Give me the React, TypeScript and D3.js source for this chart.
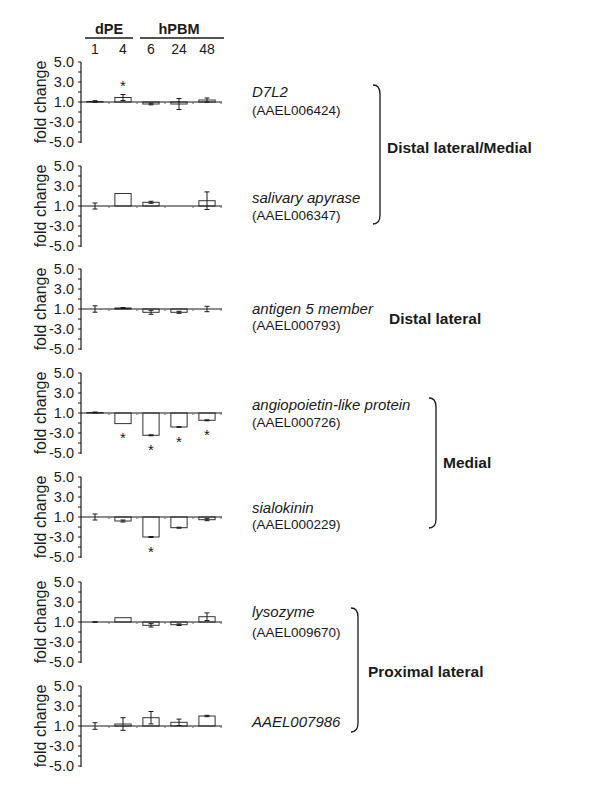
import React from "react";
import * as d3 from "d3";

// ---- data ----
const categories = ["1", "4", "6", "24", "48"];
const groupLabels = ["dPE", "hPBM"];
const groupSpans = [[0, 1], [2, 4]];
const yTickLabels = [5, 3, 1, -3, -5];
const geneNames = ["D7L2", "salivary apyrase", "antigen 5 member", "angiopoietin-like protein", "sialokinin", "lysozyme", "AAEL007986"];
const geneIds = ["(AAEL006424)", "(AAEL006347)", "(AAEL000793)", "(AAEL000726)", "(AAEL000229)", "(AAEL009670)", ""];

const values = [
  [1.05, 1.45, -1.2, -1.2, 1.2],
  [1.0, 2.25, 1.37, 1.0, 1.53],
  [1.0, 1.1, -1.33, -1.33, 1.0],
  [1.05, -2.06, -3.23, -2.4, -1.73],
  [1.0, -1.4, -3.0, -2.07, -1.27],
  [1.0, 1.43, -1.33, -1.27, 1.53],
  [1.0, 1.2, 1.83, 1.37, 2.0],
];
const errors = [
  [0.08, 0.3, 0.08, 0.55, 0.2],
  [0.3, 0, 0.1, 0, 0.88],
  [0.32, 0.05, 0.2, 0.1, 0.27],
  [0.05, 0, 0.05, 0.03, 0.05],
  [0.3, 0.1, 0.05, 0.05, 0.1],
  [0.03, 0, 0.17, 0.08, 0.38],
  [0.33, 0.63, 0.62, 0.32, 0.07],
];
const significant = [
  [false, true, false, false, false],
  [false, false, false, false, false],
  [false, false, false, false, false],
  [false, true, true, true, true],
  [false, false, true, false, false],
  [false, false, false, false, false],
  [false, false, false, false, false],
];
const regionLabels = ["Distal lateral/Medial", "Distal lateral", "Medial", "Proximal lateral"];

// ---- layout ----
const W = 600, H = 788;
const axisX = 81;
const bandW = 28;
const baselines = [102, 206, 309, 413, 517, 622, 726];
const halfH = 40;
const nameDy = [-5, -3, 5, -3, -4, -5, 1];
const idDy = [13, 14, 21, 14, 12, 15, 0];
const labelX = 252;
const brackets = [
  { tip: 373, top: 85, bottom: 224 },
  null,
  { tip: 429, top: 398, bottom: 528 },
  { tip: 351, top: 608, bottom: 732 },
];
const regionPos = [
  { x: 387, y: 153 },
  { x: 389, y: 324 },
  { x: 443, y: 468 },
  { x: 368, y: 677 },
];

const FONT = "'Liberation Sans', Arial, Helvetica, sans-serif";
const INK = "#1a1a1a";

// fold change axis: values between -1 and 1 collapse to 0
const tf = (v: number) => (v >= 1 ? v - 1 : v <= -1 ? v + 1 : 0);

const x = d3
  .scaleBand<string>()
  .domain(categories)
  .range([axisX, axisX + bandW * categories.length])
  .paddingInner(0.42)
  .paddingOuter(0.21);

function Panel({ i }: { i: number }) {
  const base = baselines[i];
  const y = d3.scaleLinear().domain([-4, 4]).range([base + halfH, base - halfH]);
  const minorTicks = d3.range(-4, 5, 1);
  const bw = x.bandwidth();
  const x0 = axisX;
  const x1 = axisX + bandW * categories.length + 1;
  return (
    <g>
      {/* y axis */}
      <line x1={axisX} x2={axisX} y1={y(4)} y2={y(-4) + 1} stroke={INK} strokeWidth={1.2} />
      {minorTicks.map((t) => (
        <line key={"mt" + t} x1={axisX - 3} x2={axisX} y1={y(t)} y2={y(t)} stroke={INK} strokeWidth={1} />
      ))}
      {yTickLabels.map((v) => (
        <text
          key={"yl" + v}
          x={axisX - 7}
          y={y(tf(v))}
          dy="0.36em"
          textAnchor="end"
          fontSize={14.5}
          fontFamily={FONT}
          fill={INK}
        >
          {v.toFixed(1)}
        </text>
      ))}
      <text
        transform={`translate(${40},${base}) rotate(-90)`}
        textAnchor="middle"
        dy="0.36em"
        fontSize={16}
        fontFamily={FONT}
        fill={INK}
      >
        fold change
      </text>
      {/* bars */}
      {categories.map((c, j) => {
        const v = values[i][j];
        const t = tf(v);
        const e = errors[i][j];
        const cx = (x(c) as number) + bw / 2;
        const yTop = Math.min(y(t), y(0));
        const h = Math.abs(y(t) - y(0));
        const eTop = y(t + e);
        const eBot = y(t - e);
        const starY = t >= 0 ? Math.min(eTop, yTop) - 12 : Math.max(eBot, yTop + h) + 11;
        return (
          <g key={c}>
            <rect x={x(c)} y={yTop} width={bw} height={h} fill="#fff" stroke="#333" strokeWidth={1} />
            {e > 0 && (
              <g stroke={INK} strokeWidth={1}>
                <line x1={cx} x2={cx} y1={eTop} y2={eBot} />
                <line x1={cx - 2.5} x2={cx + 2.5} y1={eTop} y2={eTop} />
                <line x1={cx - 2.5} x2={cx + 2.5} y1={eBot} y2={eBot} />
              </g>
            )}
            {significant[i][j] && (
              <text x={cx} y={starY} dy="0.55em" textAnchor="middle" fontSize={15} fontFamily={FONT} fill={INK}>
                *
              </text>
            )}
          </g>
        );
      })}
      {/* x axis */}
      <line x1={x0} x2={x1} y1={y(0)} y2={y(0)} stroke={INK} strokeWidth={1.2} />
      {categories.map((c, j) => (
        <line
          key={"xt" + c}
          x1={axisX + bandW * (j + 1)}
          x2={axisX + bandW * (j + 1)}
          y1={y(0)}
          y2={y(0) + 2}
          stroke="#666"
          strokeWidth={1}
        />
      ))}
      {/* gene labels */}
      <text x={labelX} y={base + nameDy[i]} fontSize={15} fontStyle="italic" fontFamily={FONT} fill={INK}>
        {geneNames[i]}
      </text>
      {geneIds[i] && (
        <text x={labelX} y={base + idDy[i]} fontSize={13.5} fontFamily={FONT} fill={INK}>
          {geneIds[i]}
        </text>
      )}
    </g>
  );
}

export default function App() {
  return (
    <svg
      width={W}
      height={H}
      style={{ position: "absolute", left: 0, top: 0, background: "#fff" }}
      xmlns="http://www.w3.org/2000/svg"
    >
      <rect width={W} height={H} fill="#fff" />
      {/* header */}
      {groupLabels.map((g, k) => {
        const [a, b] = groupSpans[k];
        const xa = axisX + bandW * a + (k === 0 ? 4 : 3);
        const xb = axisX + bandW * (b + 1) + (k === 0 ? -4 : 3);
        return (
          <g key={g}>
            <text
              x={(x(categories[a])! + x(categories[b])! + x.bandwidth()) / 2}
              y={34}
              textAnchor="middle"
              fontSize={14.5}
              fontWeight="bold"
              fontFamily={FONT}
              fill={INK}
            >
              {g}
            </text>
            <line x1={xa} x2={xb} y1={38} y2={38} stroke={INK} strokeWidth={1.5} />
          </g>
        );
      })}
      {categories.map((c) => (
        <text
          key={"cat" + c}
          x={(x(c) as number) + x.bandwidth() / 2}
          y={54}
          textAnchor="middle"
          fontSize={14}
          fontFamily={FONT}
          fill={INK}
        >
          {c}
        </text>
      ))}
      {values.map((_, i) => (
        <Panel key={i} i={i} />
      ))}
      {/* brackets */}
      {brackets.map((b, k) =>
        b ? (
          <path
            key={"br" + k}
            d={`M${b.tip},${b.top} Q${b.tip + 7},${b.top} ${b.tip + 7},${b.top + 9} L${b.tip + 7},${b.bottom - 9} Q${b.tip + 7},${b.bottom} ${b.tip},${b.bottom}`}
            fill="none"
            stroke={INK}
            strokeWidth={1.3}
          />
        ) : null
      )}
      {regionLabels.map((r, k) => (
        <text
          key={r}
          x={regionPos[k].x}
          y={regionPos[k].y}
          fontSize={15.5}
          fontWeight="bold"
          fontFamily={FONT}
          fill={INK}
        >
          {r}
        </text>
      ))}
    </svg>
  );
}
